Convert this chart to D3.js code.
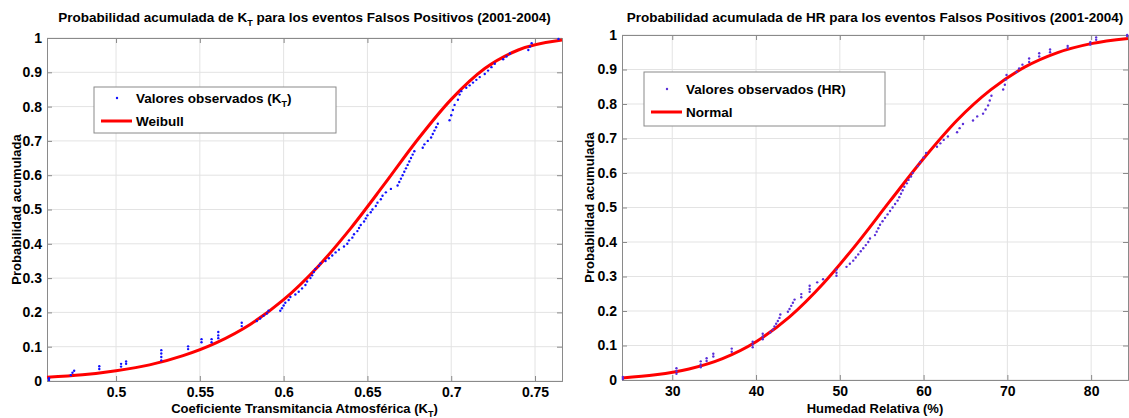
<!DOCTYPE html>
<html>
<head>
<meta charset="utf-8">
<script src="https://cdn.jsdelivr.net/npm/d3@7"></script>
<style>
  body { margin: 0; background: #fff; }
  svg text { font-family: "Liberation Sans", Arial, sans-serif; font-weight: bold; fill: #000; }
</style>
</head>
<body>
<svg id="chart" width="1129" height="418"></svg>
<script>
// ---- data ----
var probTicks = [0, 0.1, 0.2, 0.3, 0.4, 0.5, 0.6, 0.7, 0.8, 0.9, 1];
var ktTicks = [0.5, 0.55, 0.6, 0.65, 0.7, 0.75];
var hrTicks = [30, 40, 50, 60, 70, 80];

// observed KT values [kt, cumulative probability]
var ktObserved = [
  [0.4600, 0.003], [0.4600, 0.008],
  [0.473, 0.017], [0.474, 0.024], [0.475, 0.030],
  [0.490, 0.035], [0.490, 0.043],
  [0.503, 0.042], [0.503, 0.050], [0.506, 0.050], [0.506, 0.057],
  [0.527, 0.060], [0.527, 0.070], [0.527, 0.080], [0.527, 0.090],
  [0.543, 0.093], [0.543, 0.101],
  [0.551, 0.113], [0.551, 0.122], [0.557, 0.113], [0.557, 0.122],
  [0.561, 0.125], [0.561, 0.133], [0.561, 0.143],
  [0.575, 0.160], [0.575, 0.170],
  [0.584, 0.175], [0.586, 0.182], [0.588, 0.190], [0.590, 0.197], [0.591, 0.205],
  [0.598, 0.205], [0.599, 0.212], [0.600, 0.220], [0.601, 0.228], [0.603, 0.236], [0.604, 0.245],
  [0.607, 0.252], [0.609, 0.260], [0.611, 0.270], [0.613, 0.280], [0.614, 0.290], [0.616, 0.300],
  [0.617, 0.308], [0.618, 0.318], [0.619, 0.327], [0.621, 0.335], [0.622, 0.343],
  [0.625, 0.350], [0.627, 0.358], [0.629, 0.366], [0.631, 0.375], [0.633, 0.383],
  [0.636, 0.392], [0.638, 0.400], [0.639, 0.410], [0.641, 0.418], [0.642, 0.428], [0.644, 0.437],
  [0.645, 0.446], [0.646, 0.455], [0.648, 0.465], [0.649, 0.474], [0.650, 0.483], [0.652, 0.492],
  [0.653, 0.500], [0.655, 0.510], [0.656, 0.520], [0.658, 0.530], [0.659, 0.540], [0.661, 0.550],
  [0.664, 0.560], [0.668, 0.570], [0.669, 0.580], [0.670, 0.590], [0.671, 0.600], [0.672, 0.610],
  [0.673, 0.620], [0.674, 0.630], [0.675, 0.640], [0.676, 0.650], [0.677, 0.660], [0.678, 0.670],
  [0.683, 0.680], [0.684, 0.690], [0.686, 0.700], [0.688, 0.710], [0.689, 0.720], [0.690, 0.730],
  [0.691, 0.740], [0.692, 0.750],
  [0.699, 0.760], [0.700, 0.775], [0.701, 0.790], [0.702, 0.805], [0.704, 0.820], [0.705, 0.835],
  [0.706, 0.845], [0.709, 0.855], [0.711, 0.862], [0.713, 0.870], [0.715, 0.878], [0.717, 0.886],
  [0.720, 0.895], [0.722, 0.905], [0.724, 0.915], [0.726, 0.925],
  [0.731, 0.938], [0.733, 0.946], [0.735, 0.955],
  [0.746, 0.965], [0.747, 0.975], [0.748, 0.985],
  [0.764, 0.997]
];

// fitted Weibull curve [kt, probability]
var ktWeibull = [
  [0.4588, 0.011], [0.48, 0.018], [0.50, 0.030], [0.52, 0.047], [0.54, 0.074],
  [0.56, 0.112], [0.58, 0.165], [0.60, 0.237], [0.62, 0.331], [0.64, 0.445],
  [0.66, 0.573], [0.68, 0.704], [0.70, 0.821], [0.72, 0.911], [0.74, 0.965], [0.7661, 0.994]
];

// observed HR values [%, cumulative probability]
var hrObserved = [
  [24.1, 0.003], [24.1, 0.009],
  [30.5, 0.018], [30.5, 0.026], [30.5, 0.034],
  [33.4, 0.037], [33.4, 0.045], [33.4, 0.054],
  [34.1, 0.055], [34.1, 0.063], [34.9, 0.068], [34.9, 0.076],
  [37.1, 0.082], [37.1, 0.091],
  [39.6, 0.095], [39.6, 0.103], [39.6, 0.111],
  [40.8, 0.118], [40.8, 0.126], [40.8, 0.134],
  [41.7, 0.138], [42.0, 0.146], [42.2, 0.155], [42.4, 0.163], [42.6, 0.171], [42.8, 0.180], [42.9, 0.190],
  [43.8, 0.198], [44.0, 0.206], [44.2, 0.215], [44.4, 0.224], [44.6, 0.233],
  [45.4, 0.240], [45.4, 0.249],
  [46.4, 0.256], [46.4, 0.264], [46.4, 0.273],
  [47.3, 0.283], [48.0, 0.292],
  [49.6, 0.302], [49.6, 0.311], [49.6, 0.320],
  [50.8, 0.328], [51.2, 0.337], [51.6, 0.346], [51.9, 0.355], [52.2, 0.364], [52.5, 0.373],
  [52.8, 0.382], [53.1, 0.391], [53.4, 0.400], [53.6, 0.410],
  [54.2, 0.420], [54.4, 0.430], [54.6, 0.440], [54.8, 0.450], [55.1, 0.460], [55.4, 0.470],
  [55.7, 0.480], [56.0, 0.490], [56.3, 0.500], [56.6, 0.510], [56.9, 0.520], [57.1, 0.530],
  [57.3, 0.540], [57.5, 0.550], [57.7, 0.560], [58.0, 0.570], [58.2, 0.580], [58.5, 0.590], [58.7, 0.600],
  [59.3, 0.620], [59.6, 0.632], [60.0, 0.645], [60.3, 0.658],
  [61.6, 0.676], [62.0, 0.686], [62.4, 0.696], [62.9, 0.706],
  [64.0, 0.718], [64.3, 0.730], [64.7, 0.742],
  [65.9, 0.752], [66.4, 0.764],
  [67.1, 0.772], [67.4, 0.784], [67.7, 0.796], [67.9, 0.810], [68.1, 0.824],
  [69.5, 0.842], [69.7, 0.856], [69.8, 0.870], [69.9, 0.884],
  [71.1, 0.893], [71.4, 0.903], [71.8, 0.914],
  [72.6, 0.922], [72.6, 0.932], [73.8, 0.938], [73.8, 0.947],
  [75.1, 0.950], [75.1, 0.958], [77.2, 0.962], [77.2, 0.968],
  [79.9, 0.972], [79.9, 0.979], [80.6, 0.986], [80.6, 0.993],
  [84.3, 0.997], [84.3, 1.000]
];

// fitted Normal curve [%, probability]
var hrNormal = [
  [24.0, 0.006], [28, 0.015], [32, 0.032], [36, 0.062], [40, 0.111], [44, 0.183],
  [48, 0.279], [52, 0.394], [56, 0.519], [60, 0.642], [64, 0.753], [68, 0.841],
  [72, 0.906], [76, 0.949], [80, 0.975], [84.4, 0.990]
];

var svg = d3.select('#chart');

function drawPanel(o) {
  var x = d3.scaleLinear().domain(o.xDomain).range([o.left, o.right]);
  var y = d3.scaleLinear().domain([0, 1]).range([o.bottom, o.top]);
  var g = svg.append('g');

  // grid
  g.selectAll('line.vg').data(o.xTicks).enter().append('line')
    .attr('x1', function(d) { return x(d); }).attr('x2', function(d) { return x(d); })
    .attr('y1', o.top).attr('y2', o.bottom)
    .attr('stroke', '#e3e3e3').attr('stroke-width', 1);
  g.selectAll('line.hg').data(probTicks).enter().append('line')
    .attr('y1', function(d) { return y(d); }).attr('y2', function(d) { return y(d); })
    .attr('x1', o.left).attr('x2', o.right)
    .attr('stroke', '#e3e3e3').attr('stroke-width', 1);

  // axes, ticks pointing inward
  var bottomAxis = d3.axisBottom(x).tickValues(o.xTicks).tickSize(-5).tickPadding(6)
    .tickFormat(o.xFormat);
  var leftAxis = d3.axisLeft(y).tickValues(probTicks).tickSize(-5).tickPadding(5)
    .tickFormat(d3.format('~g'));
  g.append('g').attr('transform', 'translate(0,' + o.bottom + ')').call(bottomAxis);
  g.append('g').attr('transform', 'translate(' + o.left + ',0)').call(leftAxis);
  g.append('g').attr('transform', 'translate(0,' + o.top + ')')
    .call(d3.axisTop(x).tickValues(o.xTicks).tickSize(-5).tickFormat(''));
  g.append('g').attr('transform', 'translate(' + o.right + ',0)')
    .call(d3.axisRight(y).tickValues(probTicks).tickSize(-5).tickFormat(''));
  g.selectAll('.domain').attr('stroke', '#8a8a8a');
  g.selectAll('.tick line').attr('stroke', '#8a8a8a');
  g.selectAll('.tick text').style('font-size', '14px').style('font-weight', 'bold')
    .style('font-family', '"Liberation Sans", Arial, sans-serif').attr('fill', '#000');

  // fitted curve
  var line = d3.line()
    .x(function(d) { return x(d[0]); })
    .y(function(d) { return y(d[1]); })
    .curve(d3.curveMonotoneX);
  g.append('path').datum(o.curve)
    .attr('d', line).attr('fill', 'none')
    .attr('stroke', '#ff0000').attr('stroke-width', 3);

  // observed values
  g.selectAll('circle.obs').data(o.points).enter().append('circle')
    .attr('cx', function(d) { return x(d[0]); })
    .attr('cy', function(d) { return y(d[1]); })
    .attr('r', 1.2).attr('fill', o.dotColor);

  // title
  var cx = (o.left + o.right) / 2;
  var t = g.append('text').attr('x', cx).attr('y', 22)
    .attr('text-anchor', 'middle').style('font-size', '13.5px');
  o.title(t);

  // x label
  var xl = g.append('text').attr('x', cx).attr('y', 413)
    .attr('text-anchor', 'middle').style('font-size', '13px');
  o.xLabel(xl);

  // y label
  g.append('text')
    .attr('transform', 'translate(' + o.yLabelX + ',' + ((o.top + o.bottom) / 2) + ') rotate(-90)')
    .attr('text-anchor', 'middle').style('font-size', '13px')
    .text('Probabilidad acumulada');

  // legend
  var L = o.legend;
  var lg = g.append('g');
  lg.append('rect').attr('x', L.x).attr('y', L.y).attr('width', L.w).attr('height', L.h)
    .attr('fill', '#fff').attr('stroke', '#8a8a8a').attr('stroke-width', 1);
  lg.append('circle').attr('cx', L.x + 23).attr('cy', L.y + L.row1 - 5).attr('r', 1.2).attr('fill', o.dotColor);
  lg.append('line').attr('x1', L.x + 7).attr('x2', L.x + 38)
    .attr('y1', L.y + L.row2 - 5).attr('y2', L.y + L.row2 - 5)
    .attr('stroke', '#ff0000').attr('stroke-width', 3);
  var r1 = lg.append('text').attr('x', L.x + 42).attr('y', L.y + L.row1).style('font-size', '13.5px');
  L.label1(r1);
  lg.append('text').attr('x', L.x + 42).attr('y', L.y + L.row2).style('font-size', '13.5px')
    .text(L.label2);
}

function sub(sel, main, s, rest) {
  sel.append('tspan').text(main);
  sel.append('tspan').attr('dy', 4).style('font-size', '9px').text(s);
  sel.append('tspan').attr('dy', -4).text(rest);
}

drawPanel({
  left: 47, right: 562, top: 38, bottom: 381,
  xDomain: [0.4588, 0.7661],
  xTicks: ktTicks,
  xFormat: d3.format('~g'),
  points: ktObserved,
  curve: ktWeibull,
  dotColor: '#1010ff',
  yLabelX: 21,
  title: function(t) {
    sub(t, 'Probabilidad acumulada de K', 'T', ' para los eventos Falsos Positivos (2001-2004)');
  },
  xLabel: function(t) {
    sub(t, 'Coeficiente Transmitancia Atmosférica (K', 'T', ')');
  },
  legend: {
    x: 94, y: 87, w: 242, h: 46, row1: 16, row2: 39,
    label1: function(t) { sub(t, 'Valores observados (K', 'T', ')'); },
    label2: 'Weibull'
  }
});

drawPanel({
  left: 622, right: 1128, top: 35, bottom: 380,
  xDomain: [24.0, 84.4],
  xTicks: hrTicks,
  xFormat: d3.format('d'),
  points: hrObserved,
  curve: hrNormal,
  dotColor: '#5a2fd8',
  yLabelX: 594,
  title: function(t) {
    t.text('Probabilidad acumulada de HR para los eventos Falsos Positivos (2001-2004)');
  },
  xLabel: function(t) { t.text('Humedad Relativa (%)'); },
  legend: {
    x: 644, y: 72, w: 241, h: 54, row1: 22, row2: 45,
    label1: function(t) { t.text('Valores observados (HR)'); },
    label2: 'Normal'
  }
});
</script>
</body>
</html>
